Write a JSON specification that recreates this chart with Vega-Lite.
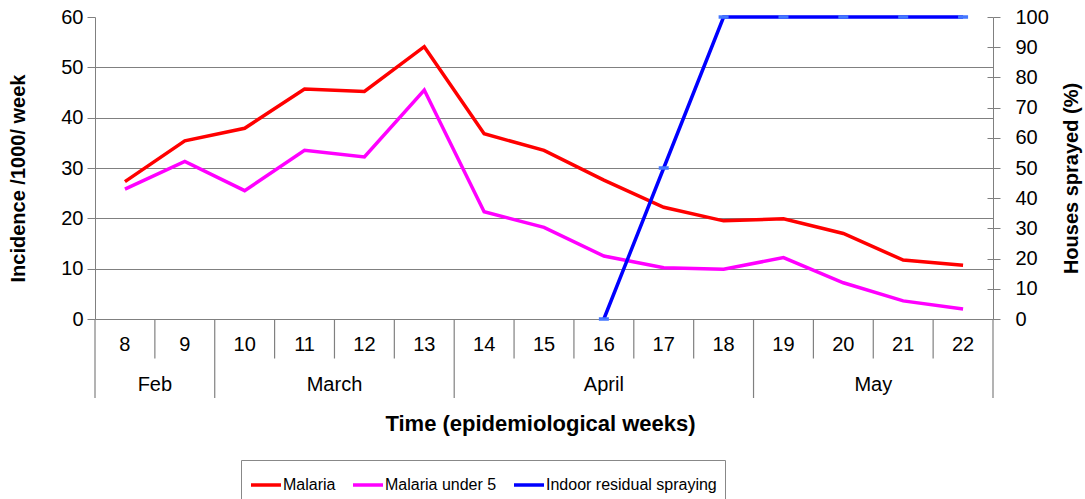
{
  "$schema": "https://vega.github.io/schema/vega-lite/v6.json",
  "padding": {"left": 8, "top": 7, "right": 5, "bottom": 5},
  "bounds": "flush",
  "spacing": 0,
  "config": {
    "view": {"stroke": null},
    "font": "Liberation Sans",
    "axis": {"labelFont": "Liberation Sans", "titleFont": "Liberation Sans", "labelColor": "#000", "titleColor": "#000"}
  },
  "vconcat": [
    {
      "width": 898,
      "height": 302,
      "layer": [
        {
          "data": {"values": [
            {"week": 8, "series": "Malaria", "value": 27.3},
            {"week": 9, "series": "Malaria", "value": 35.4},
            {"week": 10, "series": "Malaria", "value": 37.9},
            {"week": 11, "series": "Malaria", "value": 45.7},
            {"week": 12, "series": "Malaria", "value": 45.2},
            {"week": 13, "series": "Malaria", "value": 54.1},
            {"week": 14, "series": "Malaria", "value": 36.8},
            {"week": 15, "series": "Malaria", "value": 33.5},
            {"week": 16, "series": "Malaria", "value": 27.6},
            {"week": 17, "series": "Malaria", "value": 22.2},
            {"week": 18, "series": "Malaria", "value": 19.5},
            {"week": 19, "series": "Malaria", "value": 19.9},
            {"week": 20, "series": "Malaria", "value": 17.0},
            {"week": 21, "series": "Malaria", "value": 11.7},
            {"week": 22, "series": "Malaria", "value": 10.7},
            {"week": 8, "series": "Malaria under 5", "value": 25.8},
            {"week": 9, "series": "Malaria under 5", "value": 31.3},
            {"week": 10, "series": "Malaria under 5", "value": 25.5},
            {"week": 11, "series": "Malaria under 5", "value": 33.5},
            {"week": 12, "series": "Malaria under 5", "value": 32.2},
            {"week": 13, "series": "Malaria under 5", "value": 45.5},
            {"week": 14, "series": "Malaria under 5", "value": 21.3},
            {"week": 15, "series": "Malaria under 5", "value": 18.2},
            {"week": 16, "series": "Malaria under 5", "value": 12.5},
            {"week": 17, "series": "Malaria under 5", "value": 10.2},
            {"week": 18, "series": "Malaria under 5", "value": 9.9},
            {"week": 19, "series": "Malaria under 5", "value": 12.2},
            {"week": 20, "series": "Malaria under 5", "value": 7.2},
            {"week": 21, "series": "Malaria under 5", "value": 3.6},
            {"week": 22, "series": "Malaria under 5", "value": 2.0}
          ]},
          "mark": {"type": "line", "strokeWidth": 3.5},
          "encoding": {
            "x": {"field": "week", "type": "quantitative", "scale": {"domain": [7.5, 22.5], "nice": false, "zero": false}, "axis": null},
            "y": {
              "field": "value", "type": "quantitative",
              "scale": {"domain": [0, 60], "nice": false},
              "axis": {
                "orient": "left",
                "values": [0, 10, 20, 30, 40, 50, 60],
                "tickSize": 8,
                "labelPadding": 4,
                "labelFontSize": 20,
                "title": "Incidence /1000/ week",
                "titleFontSize": 20,
                "titleFontWeight": "bold",
                "titlePadding": 32,
                "titleY": 161,
                "grid": true,
                "gridColor": "#808080",
                "gridWidth": 1.2,
                "gridOpacity": {"condition": {"test": "datum.value == 60", "value": 0}, "value": 1},
                "domainColor": "#808080",
                "tickColor": "#808080"
              }
            },
            "color": {
              "field": "series", "type": "nominal",
              "scale": {"domain": ["Malaria", "Malaria under 5", "Indoor residual spraying"], "range": ["#ff0000", "#ff00ff", "#0000ff"]},
              "legend": {
                "orient": "none",
                "legendX": 146,
                "legendY": 443,
                "direction": "horizontal",
                "title": null,
                "symbolType": "stroke",
                "symbolSize": 900,
                "symbolStrokeWidth": 3.5,
                "labelFontSize": 16,
                "labelLimit": 400,
                "labelColor": "#000",
                "labelOffset": 0,
                "columnPadding": 10,
                "padding": 8,
                "strokeColor": "#888888"
              }
            }
          }
        },
        {
          "data": {"values": [
            {"week": 16, "series": "Indoor residual spraying", "pct": 0},
            {"week": 17, "series": "Indoor residual spraying", "pct": 50},
            {"week": 18, "series": "Indoor residual spraying", "pct": 100},
            {"week": 19, "series": "Indoor residual spraying", "pct": 100},
            {"week": 20, "series": "Indoor residual spraying", "pct": 100},
            {"week": 21, "series": "Indoor residual spraying", "pct": 100},
            {"week": 22, "series": "Indoor residual spraying", "pct": 100}
          ]},
          "mark": {"type": "line", "strokeWidth": 3.5},
          "encoding": {
            "x": {"field": "week", "type": "quantitative", "scale": {"domain": [7.5, 22.5], "nice": false, "zero": false}, "axis": null},
            "y": {
              "field": "pct", "type": "quantitative",
              "scale": {"domain": [0, 100], "nice": false},
              "axis": {
                "orient": "right",
                "values": [0, 10, 20, 30, 40, 50, 60, 70, 80, 90, 100],
                "labelOverlap": false,
                "tickSize": 7,
                "labelPadding": 15,
                "labelFontSize": 20,
                "title": "Houses sprayed (%)",
                "titleAngle": 270,
                "titleFontSize": 20,
                "titleFontWeight": "bold",
                "titlePadding": 33,
                "titleY": 161,
                "grid": false,
                "domainColor": "#808080",
                "tickColor": "#808080"
              }
            },
            "color": {"field": "series", "type": "nominal"}
          }
        },
        {
          "data": {"values": [
            {"week": 16, "pct": 0},
            {"week": 17, "pct": 50},
            {"week": 18, "pct": 100},
            {"week": 19, "pct": 100},
            {"week": 20, "pct": 100},
            {"week": 21, "pct": 100},
            {"week": 22, "pct": 100}
          ]},
          "mark": {"type": "point", "shape": "stroke", "size": 100, "strokeWidth": 3.5, "color": "#4477ff", "opacity": 1},
          "encoding": {
            "x": {"field": "week", "type": "quantitative"},
            "y": {
              "field": "pct", "type": "quantitative",
              "scale": {"domain": [0, 100], "nice": false},
              "axis": {
                "orient": "right",
                "offset": -6,
                "values": [0, 10, 20, 30, 40, 50, 60, 70, 80, 90, 100],
                "tickSize": 6,
                "labels": false,
                "domain": false,
                "grid": false,
                "title": null,
                "tickColor": "#808080"
              }
            }
          }
        }
      ],
      "resolve": {"scale": {"y": "independent"}}
    },
    {
      "width": 898,
      "height": 79,
      "layer": [
        {
          "data": {"values": [
            {"b": 7.5, "len": 2}, {"b": 8.5, "len": 1}, {"b": 9.5, "len": 2}, {"b": 10.5, "len": 1},
            {"b": 11.5, "len": 1}, {"b": 12.5, "len": 1}, {"b": 13.5, "len": 2}, {"b": 14.5, "len": 1},
            {"b": 15.5, "len": 1}, {"b": 16.5, "len": 1}, {"b": 17.5, "len": 1}, {"b": 18.5, "len": 2},
            {"b": 19.5, "len": 1}, {"b": 20.5, "len": 1}, {"b": 21.5, "len": 1}, {"b": 22.5, "len": 2}
          ]},
          "mark": {"type": "rule", "color": "#808080", "strokeWidth": 1.2},
          "encoding": {
            "x": {"field": "b", "type": "quantitative", "scale": {"domain": [7.5, 22.5], "nice": false, "zero": false},
                  "axis": {"labels": false, "ticks": false, "domain": false, "grid": false, "title": "Time (epidemiological weeks)", "titleFontSize": 22, "titleFontWeight": "bold", "titlePadding": 15, "titleX": 445}},
            "y": {"field": "len", "type": "quantitative", "scale": {"domain": [0, 2], "reverse": true, "nice": false}, "axis": null},
            "y2": {"datum": 0}
          }
        },
        {
          "data": {"values": [
            {"week": 8}, {"week": 9}, {"week": 10}, {"week": 11}, {"week": 12}, {"week": 13}, {"week": 14},
            {"week": 15}, {"week": 16}, {"week": 17}, {"week": 18}, {"week": 19}, {"week": 20}, {"week": 21}, {"week": 22}
          ]},
          "mark": {"type": "text", "fontSize": 20, "baseline": "middle", "align": "center", "color": "#000"},
          "encoding": {
            "x": {"field": "week", "type": "quantitative"},
            "y": {"datum": 0.66, "type": "quantitative"},
            "text": {"field": "week", "type": "nominal"}
          }
        },
        {
          "data": {"values": [
            {"month": "Feb", "mid": 8.5}, {"month": "March", "mid": 11.5}, {"month": "April", "mid": 16}, {"month": "May", "mid": 20.5}
          ]},
          "mark": {"type": "text", "fontSize": 20, "baseline": "middle", "align": "center", "color": "#000"},
          "encoding": {
            "x": {"field": "mid", "type": "quantitative"},
            "y": {"datum": 1.67, "type": "quantitative"},
            "text": {"field": "month", "type": "nominal"}
          }
        }
      ]
    }
  ]
}
